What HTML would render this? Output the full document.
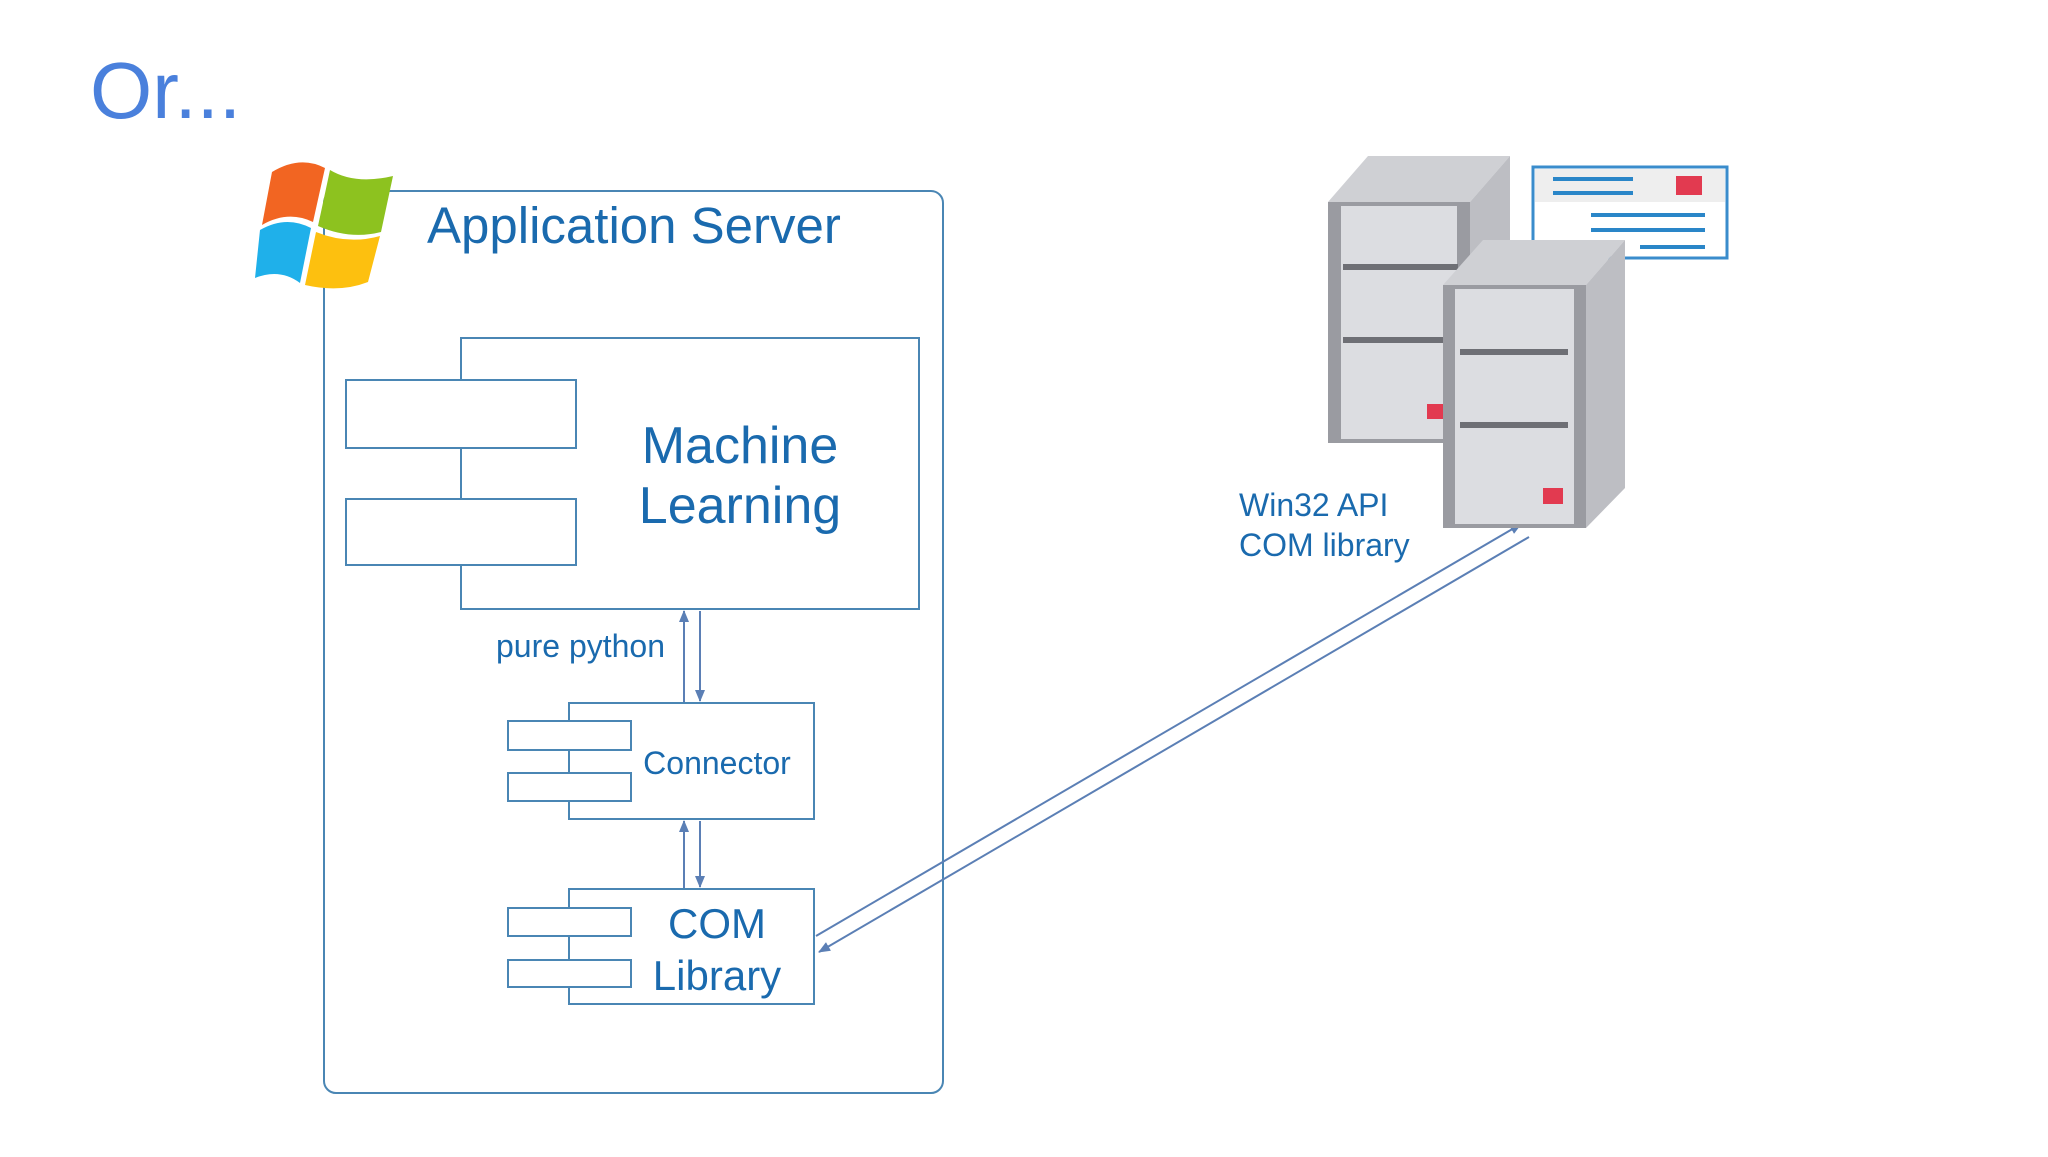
<!DOCTYPE html>
<html><head><meta charset="utf-8"><style>
html,body{margin:0;padding:0;background:#fff;}
body{width:2048px;height:1152px;position:relative;overflow:hidden;font-family:"Liberation Sans",sans-serif;}
</style></head><body>
<svg width="2048" height="1152" viewBox="0 0 2048 1152" xmlns="http://www.w3.org/2000/svg" font-family="Liberation Sans, sans-serif">
<defs>
<marker id="ah" markerWidth="12" markerHeight="10" refX="11" refY="5" orient="auto" markerUnits="userSpaceOnUse">
<path d="M0,0 L12,5 L0,10 Z" fill="#5b7fb5"/></marker>
</defs>
<text x="90" y="118" font-size="80" fill="#4a80dc">Or...</text>

<rect x="324" y="191" width="619" height="902" rx="12" fill="none" stroke="#4a86b4" stroke-width="2"/>
<g>
<path d="M272,172 Q300,155 325,168 L313,222 Q288,210 262,225 Z" fill="#f26522"/>
<path d="M330,170 Q355,185 393,176 L381,232 Q350,240 318,226 Z" fill="#8dc21f"/>
<path d="M260,230 Q286,215 311,228 L300,283 Q280,268 255,278 Z" fill="#1fb0ea"/>
<path d="M316,232 Q348,245 380,236 L368,282 Q340,293 305,285 Z" fill="#fdc00f"/>
</g>
<text x="427" y="243" font-size="51" fill="#1a6aae">Application Server</text>

<rect x="461" y="338" width="458" height="271" fill="#fff" stroke="#4a86b4" stroke-width="2"/>
<rect x="346" y="380" width="230" height="68" fill="#fff" stroke="#4a86b4" stroke-width="2"/>
<rect x="346" y="499" width="230" height="66" fill="#fff" stroke="#4a86b4" stroke-width="2"/>
<text x="740" y="463" font-size="52" fill="#1a6aae" text-anchor="middle">Machine</text>
<text x="740" y="523" font-size="52" fill="#1a6aae" text-anchor="middle">Learning</text>

<text x="496" y="657" font-size="32" fill="#1a6aae">pure python</text>
<line x1="684" y1="703" x2="684" y2="611" stroke="#5b7fb5" stroke-width="2" marker-end="url(#ah)"/>
<line x1="700" y1="611" x2="700" y2="701" stroke="#5b7fb5" stroke-width="2" marker-end="url(#ah)"/>

<rect x="569" y="703" width="245" height="116" fill="#fff" stroke="#4a86b4" stroke-width="2"/>
<rect x="508" y="721" width="123" height="29" fill="#fff" stroke="#4a86b4" stroke-width="2"/>
<rect x="508" y="773" width="123" height="28" fill="#fff" stroke="#4a86b4" stroke-width="2"/>
<text x="717" y="774" font-size="32" fill="#1a6aae" text-anchor="middle">Connector</text>

<line x1="684" y1="889" x2="684" y2="821" stroke="#5b7fb5" stroke-width="2" marker-end="url(#ah)"/>
<line x1="700" y1="821" x2="700" y2="887" stroke="#5b7fb5" stroke-width="2" marker-end="url(#ah)"/>

<rect x="569" y="889" width="245" height="115" fill="#fff" stroke="#4a86b4" stroke-width="2"/>
<rect x="508" y="908" width="123" height="28" fill="#fff" stroke="#4a86b4" stroke-width="2"/>
<rect x="508" y="960" width="123" height="27" fill="#fff" stroke="#4a86b4" stroke-width="2"/>
<text x="717" y="938" font-size="42" fill="#1a6aae" text-anchor="middle">COM</text>
<text x="717" y="990" font-size="42" fill="#1a6aae" text-anchor="middle">Library</text>

<line x1="816" y1="936" x2="1521" y2="524" stroke="#5b7fb5" stroke-width="2" marker-end="url(#ah)"/>
<line x1="1529" y1="537" x2="819" y2="952" stroke="#5b7fb5" stroke-width="2" marker-end="url(#ah)"/>

<text x="1239" y="516" font-size="32" fill="#1a6aae">Win32 API</text>
<text x="1239" y="556" font-size="32" fill="#1a6aae">COM library</text>

<rect x="1533" y="167" width="194" height="91" fill="#fff" stroke="#3a8ccc" stroke-width="3"/>
<rect x="1535" y="169" width="190" height="33" fill="#eeeeee"/>
<g stroke="#2a86c8" stroke-width="4">
<line x1="1553" y1="179" x2="1633" y2="179"/><line x1="1553" y1="193" x2="1633" y2="193"/>
<line x1="1591" y1="215" x2="1705" y2="215"/><line x1="1591" y1="230" x2="1705" y2="230"/>
<line x1="1640" y1="247" x2="1705" y2="247"/></g>
<rect x="1676" y="176" width="26" height="19" fill="#e23a50"/>

<path d="M1328,202 L1368,156 L1510,156 L1470,202 Z" fill="#cfd0d4"/>
<path d="M1470,202 L1510,156 L1510,400 L1470,443 Z" fill="#bdbec3"/>
<rect x="1328" y="202" width="142" height="241" fill="#9a9ba1"/>
<rect x="1341" y="206" width="116" height="233" fill="#dcdde1"/>
<rect x="1343" y="264" width="115" height="6" fill="#6e6f75"/>
<rect x="1343" y="337" width="115" height="6" fill="#6e6f75"/>
<rect x="1427" y="404" width="16" height="15" fill="#e23a50"/>

<path d="M1443,285 L1483,240 L1625,240 L1586,285 Z" fill="#cfd0d4"/>
<path d="M1586,285 L1625,240 L1625,488 L1586,528 Z" fill="#bdbec3"/>
<rect x="1443" y="285" width="143" height="243" fill="#9a9ba1"/>
<rect x="1455" y="289" width="119" height="235" fill="#dcdde1"/>
<rect x="1460" y="349" width="108" height="6" fill="#6e6f75"/>
<rect x="1460" y="422" width="108" height="6" fill="#6e6f75"/>
<rect x="1543" y="488" width="20" height="16" fill="#e23a50"/>
</svg>
</body></html>
